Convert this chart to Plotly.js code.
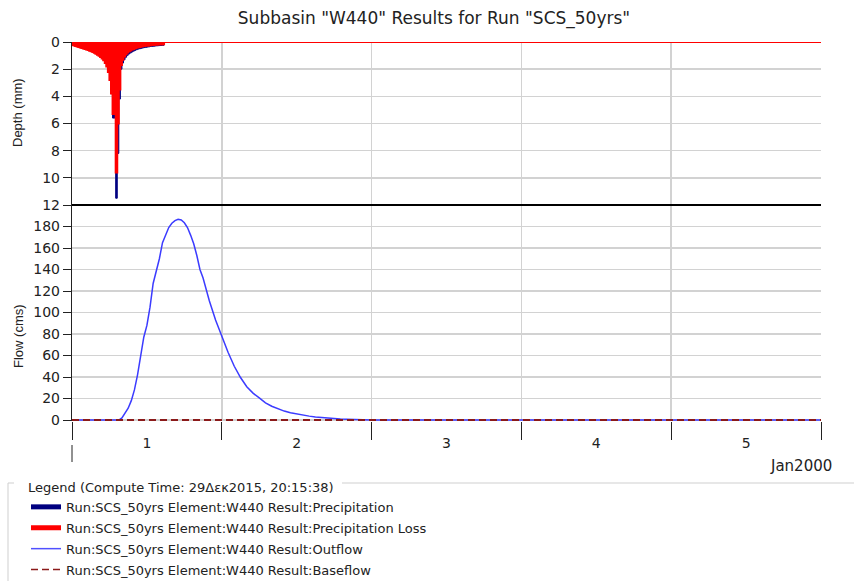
<!DOCTYPE html>
<html>
<head>
<meta charset="utf-8">
<script src="https://cdn.plot.ly/plotly-3.0.1.min.js"></script>
<style>
  html, body { margin: 0; padding: 0; background: #ffffff; }
  #chart { width: 854px; height: 581px; }
</style>
</head>
<body>
<div id="chart"></div>
<script>
// ---------------- DATA ----------------
const runStart = '2000-01-01 00:00';
const runEnd = '2000-01-06 00:00';
const precipStepHours = 0.25; // 15-minute hyetograph interval

// Incremental precipitation depth per 15-min interval (mm), starting at 00:00
const precipitation = [
  0.22, 0.26, 0.30, 0.33, 0.37, 0.41, 0.44, 0.47, 0.51, 0.55,
  0.59, 0.64, 0.69, 0.74, 0.80, 0.86, 0.93, 1.01, 1.10, 1.21,
  1.35, 1.55, 1.80, 2.20, 2.80, 3.80, 5.60, 5.60, 11.50, 8.20,
  4.20, 2.00, 1.55, 1.30, 1.12, 0.98, 0.88, 0.80, 0.73, 0.67,
  0.61, 0.56, 0.52, 0.49, 0.46, 0.43, 0.41, 0.39, 0.37, 0.35,
  0.33, 0.32, 0.31, 0.29, 0.28, 0.27, 0.26, 0.25, 0.24
];
// Precipitation loss per 15-min interval (mm)
const precipitationLoss = [
  0.22, 0.26, 0.30, 0.33, 0.37, 0.41, 0.44, 0.47, 0.51, 0.55,
  0.59, 0.64, 0.69, 0.74, 0.80, 0.86, 0.93, 1.01, 1.10, 1.21,
  1.35, 1.55, 1.80, 2.20, 2.80, 3.80, 5.30, 5.30, 9.60, 6.00,
  3.50, 1.70, 1.30, 1.07, 0.90, 0.78, 0.69, 0.62, 0.56, 0.51,
  0.46, 0.42, 0.39, 0.36, 0.34, 0.32, 0.30, 0.28, 0.27, 0.25,
  0.24, 0.23, 0.22, 0.21, 0.20, 0.19, 0.19, 0.18, 0.17
];

// Outflow hydrograph (hours after start, cms)
const outflowHours = [
  0, 7.5, 8, 8.5, 9, 9.5, 10, 10.5, 11, 11.5,
  12, 12.5, 13, 13.5, 14, 14.5, 15, 15.5, 16, 16.5,
  17, 17.5, 18, 18.5, 19, 19.5, 20, 20.5, 21, 21.5,
  22, 23, 24, 25, 26, 27, 28, 29, 30, 31,
  32, 33, 34, 35, 36, 37, 38, 39, 40, 41,
  42, 43, 44, 45, 46, 48, 120
];
const outflow = [
  0, 0, 2, 6, 11, 18, 28, 42, 58, 77,
  88, 105, 127, 138, 150, 165, 173, 179, 183, 185.5,
  186.7, 186, 183.5, 179, 172, 164, 153, 140, 132, 120,
  111, 93, 77, 63, 50, 39.5, 31, 25, 20.5, 16,
  12.8, 10.2, 8.3, 6.8, 5.6, 4.4, 3.6, 2.9, 2.3, 1.8,
  1.4, 1.0, 0.7, 0.45, 0.25, 0, 0
];

// Baseflow (cms)
const baseflowHours = [0, 120];
const baseflow = [0, 0];

const depthTicks = [0, 2, 4, 6, 8, 10, 12];
const flowTicks = [0, 20, 40, 60, 80, 100, 120, 140, 160, 180];

const titleText = 'Subbasin "W440" Results for Run "SCS_50yrs"';
const legendTitle = 'Legend (Compute Time: 29\u0394\u03b5\u03ba2015, 20:15:38)';
const seriesNames = [
  'Run:SCS_50yrs Element:W440 Result:Precipitation',
  'Run:SCS_50yrs Element:W440 Result:Precipitation Loss',
  'Run:SCS_50yrs Element:W440 Result:Outflow',
  'Run:SCS_50yrs Element:W440 Result:Baseflow'
];
const monthLabel = 'Jan2000';

// ---------------- HELPERS ----------------
const t0 = Date.UTC(2000, 0, 1, 0, 0, 0);
function hToDate(h) {
  return new Date(t0 + h * 3600000).toISOString().slice(0, 19).replace('T', ' ');
}
// step series: start of each interval, then a closing zero extended to end of run
function stepX(vals) {
  const xs = vals.map((v, i) => hToDate(i * precipStepHours));
  xs.push(hToDate(vals.length * precipStepHours));
  xs.push(hToDate(120));
  return xs;
}
function stepY(vals) { return vals.concat([0, 0]); }

// ---------------- GEOMETRY ----------------
const W = 854, H = 581;
const M = { l: 72, r: 33, t: 42, b: 160 };
const pw = W - M.l - M.r, ph = H - M.t - M.b;
const splitPx = 205; // boundary between panels (page px)
const split = (H - M.b - splitPx) / ph;
const px2x = p => (p - M.l) / pw;
const py2y = p => (H - M.b - p) / ph;

const FONT = 'DejaVu Sans, Liberation Sans, Arial, sans-serif';
const gridCol = '#d2d2d2';

// ---------------- TRACES ----------------
const traces = [
  {
    name: seriesNames[0], x: stepX(precipitation), y: stepY(precipitation),
    xaxis: 'x', yaxis: 'y2', type: 'scatter', mode: 'lines',
    line: { shape: 'hv', color: '#000080', width: 1 },
    fill: 'tozeroy', fillcolor: '#000080', showlegend: false
  },
  {
    name: seriesNames[1], x: stepX(precipitationLoss), y: stepY(precipitationLoss),
    xaxis: 'x', yaxis: 'y2', type: 'scatter', mode: 'lines',
    line: { shape: 'hv', color: '#ff0000', width: 2 },
    fill: 'tozeroy', fillcolor: '#ff0000', showlegend: false
  },
  {
    name: seriesNames[2], x: outflowHours.map(hToDate), y: outflow,
    xaxis: 'x', yaxis: 'y', type: 'scatter', mode: 'lines',
    line: { color: '#3b3bff', width: 1.5 }, showlegend: false
  },
  {
    name: seriesNames[3], x: baseflowHours.map(hToDate), y: baseflow,
    xaxis: 'x', yaxis: 'y', type: 'scatter', mode: 'lines',
    line: { color: '#8b1a1a', width: 1.8, dash: '7px,4px' }, showlegend: false
  },
  // legend entries
  { name: seriesNames[0], x: [null], y: [null], type: 'scatter', mode: 'lines',
    line: { color: '#000080', width: 5 }, legendgroup: 'a', hoverinfo: 'skip' },
  { name: seriesNames[1], x: [null], y: [null], type: 'scatter', mode: 'lines',
    line: { color: '#ff0000', width: 5 }, legendgroup: 'b', hoverinfo: 'skip' },
  { name: seriesNames[2], x: [null], y: [null], type: 'scatter', mode: 'lines',
    line: { color: '#5050ff', width: 1.5 }, legendgroup: 'c', hoverinfo: 'skip' },
  { name: seriesNames[3], x: [null], y: [null], type: 'scatter', mode: 'lines',
    line: { color: '#8b1a1a', width: 1.5, dash: '7px,4px' }, legendgroup: 'd', hoverinfo: 'skip' }
];

// ---------------- LAYOUT ----------------
const tickFont = { family: FONT, size: 14, color: '#222' };
const layout = {
  width: W, height: H,
  margin: { l: M.l, r: M.r, t: M.t, b: M.b, autoexpand: false },
  paper_bgcolor: '#ffffff', plot_bgcolor: '#ffffff',
  font: { family: FONT, size: 13, color: '#222' },
  title: {
    text: titleText, font: { family: FONT, size: 17, color: '#222' },
    xref: 'paper', x: px2x(434), xanchor: 'center',
    yref: 'container', y: 1 - 18 / H, yanchor: 'middle'
  },
  showlegend: true,
  legend: {
    x: px2x(26), xanchor: 'left', y: py2y(475), yanchor: 'top',
    bgcolor: 'rgba(0,0,0,0)', borderwidth: 0,
    font: { family: FONT, size: 13, color: '#222' },
    title: { text: legendTitle, font: { family: FONT, size: 13, color: '#222' } },
    tracegroupgap: 1, traceorder: 'grouped'
  },
  xaxis: {
    type: 'date', range: [runStart, runEnd], anchor: 'y',
    tick0: runStart, dtick: 86400000, tickformat: '%-d',
    ticklabelmode: 'period', ticks: 'outside', ticklen: 18, tickwidth: 1,
    tickcolor: '#222', ticklabelstandoff: -9,
    showgrid: true, gridcolor: gridCol, gridwidth: 1.5,
    showline: false, zeroline: false, tickfont: tickFont, fixedrange: true
  },
  yaxis: {
    domain: [0, split], range: [-0.93, 200], anchor: 'x',
    tickvals: flowTicks, ticks: 'outside', ticklen: 8, tickcolor: '#222',
    showgrid: true, gridcolor: gridCol, gridwidth: 1.5,
    showline: true, linecolor: '#222', linewidth: 1.2, zeroline: false,
    tickfont: tickFont, fixedrange: true
  },
  yaxis2: {
    domain: [split, 1], range: [12, 0], anchor: 'x',
    tickvals: depthTicks, ticks: 'outside', ticklen: 8, tickcolor: '#222',
    showgrid: true, gridcolor: gridCol, gridwidth: 1.5,
    showline: true, linecolor: '#222', linewidth: 1.2, zeroline: false,
    tickfont: tickFont, fixedrange: true
  },
  shapes: [
    // panel separator
    { type: 'line', xref: 'paper', yref: 'paper', x0: 0, x1: 1, y0: split, y1: split,
      line: { color: '#000', width: 2.2 }, layer: 'above' },
    // secondary (month) axis stub
    { type: 'line', xref: 'paper', yref: 'paper', x0: 0, x1: 0, y0: py2y(445), y1: py2y(462),
      line: { color: '#222', width: 1 } },
    // legend frame
    { type: 'rect', xref: 'paper', yref: 'paper', x0: px2x(8), x1: px2x(880),
      y0: py2y(483), y1: py2y(600), line: { color: '#cfcfcf', width: 1 }, fillcolor: 'rgba(0,0,0,0)' },
    // gap behind legend title
    { type: 'rect', xref: 'paper', yref: 'paper', x0: px2x(14), x1: px2x(342),
      y0: py2y(477), y1: py2y(490), line: { width: 0 }, fillcolor: '#ffffff' }
  ],
  annotations: [
    { text: monthLabel, xref: 'paper', yref: 'paper', x: px2x(834), y: py2y(466),
      xanchor: 'right', yanchor: 'middle', showarrow: false,
      font: { family: FONT, size: 15, color: '#222' } },
    { text: 'Depth (mm)', xref: 'paper', yref: 'paper', x: px2x(18), y: py2y(113),
      xanchor: 'center', yanchor: 'middle', textangle: -90, showarrow: false,
      font: { family: 'Liberation Sans, Arial, sans-serif', size: 13, color: '#222' } },
    { text: 'Flow (cms)', xref: 'paper', yref: 'paper', x: px2x(18), y: py2y(336),
      xanchor: 'center', yanchor: 'middle', textangle: -90, showarrow: false,
      font: { family: 'Liberation Sans, Arial, sans-serif', size: 13, color: '#222' } }
  ]
};

Plotly.newPlot('chart', traces, layout, { displayModeBar: false, staticPlot: true });
</script>
</body>
</html>
